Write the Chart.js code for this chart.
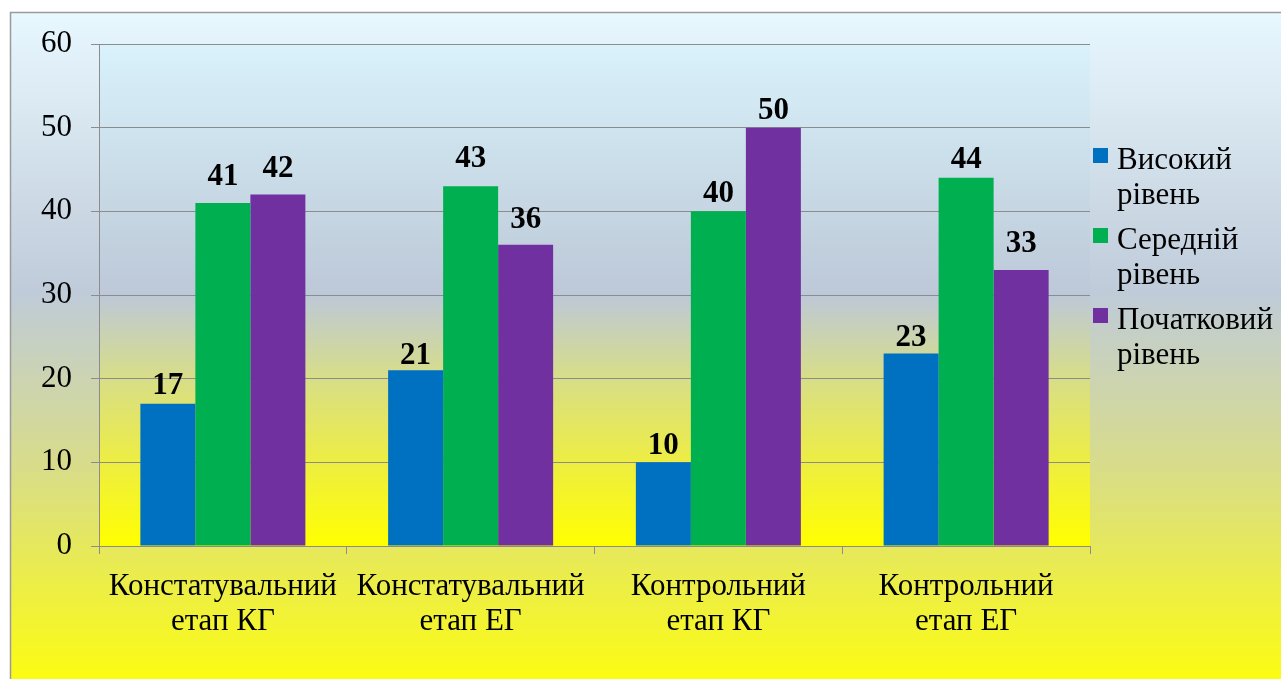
<!DOCTYPE html>
<html>
<head>
<meta charset="utf-8">
<script src="https://cdn.jsdelivr.net/npm/chart.js@4.4.1/dist/chart.umd.min.js"></script>
<style>
  html, body { margin: 0; padding: 0; background: #ffffff; }
  #wrap { width: 1281px; height: 679px; position: relative; }
</style>
</head>
<body>
<div id="wrap"><canvas id="c" width="1281" height="679"></canvas></div>
<script>
const categories = [
  ["Констатувальний", "етап КГ"],
  ["Констатувальний", "етап ЕГ"],
  ["Контрольний", "етап КГ"],
  ["Контрольний", "етап ЕГ"]
];
const seriesNames = [["Високий", "рівень"], ["Середній", "рівень"], ["Початковий", "рівень"]];
const highLevel = [17, 21, 10, 23];
const midLevel = [41, 43, 40, 44];
const lowLevel = [42, 36, 50, 33];
const yTicks = [0, 10, 20, 30, 40, 50, 60];
const colors = ["#0070C0", "#00B050", "#7030A0"];

const SERIF = "'Liberation Serif', 'Times New Roman', serif";

const backgroundPlugin = {
  id: 'bg',
  beforeDraw(chart) {
    const ctx = chart.ctx;
    const W = chart.width, H = chart.height;
    ctx.save();
    const g = ctx.createLinearGradient(0, 12, 0, H);
    g.addColorStop(0, '#e8f8ff');
    g.addColorStop(0.42, '#bfcbd9');
    g.addColorStop(0.68, '#d8dc8a');
    g.addColorStop(1, '#fcfc12');
    ctx.fillStyle = g;
    ctx.fillRect(10, 12, W - 10, H - 12);
    ctx.strokeStyle = '#9a9a9a';
    ctx.lineWidth = 1.5;
    ctx.beginPath();
    ctx.moveTo(10.5, H);
    ctx.lineTo(10.5, 12.5);
    ctx.lineTo(W, 12.5);
    ctx.stroke();
    const a = chart.chartArea;
    const pg = ctx.createLinearGradient(0, a.top, 0, a.bottom);
    pg.addColorStop(0, '#d9f2fc');
    pg.addColorStop(0.25, '#cadde8');
    pg.addColorStop(0.5, '#bdc8d8');
    pg.addColorStop(0.67, '#d8de86');
    pg.addColorStop(0.84, '#eeee40');
    pg.addColorStop(1, '#ffff00');
    ctx.fillStyle = pg;
    ctx.fillRect(a.left, a.top, a.right - a.left, a.bottom - a.top);
    ctx.restore();
  }
};

const labelsPlugin = {
  id: 'vals',
  afterDatasetsDraw(chart, args, opts) {
    const ctx = chart.ctx;
    const lifts = opts.lifts || [];
    ctx.save();
    ctx.font = "bold 31px " + SERIF;
    ctx.fillStyle = '#000';
    ctx.textAlign = 'center';
    ctx.textBaseline = 'alphabetic';
    chart.data.datasets.forEach((ds, i) => {
      const meta = chart.getDatasetMeta(i);
      meta.data.forEach((bar, j) => {
        const lift = (lifts[i] && lifts[i][j] != null) ? lifts[i][j] : 8;
        ctx.fillText(String(ds.data[j]), bar.x, bar.y - lift);
      });
    });
    ctx.restore();
  }
};

const legendPlugin = {
  id: 'customLegend',
  afterDraw(chart) {
    const ctx = chart.ctx;
    ctx.save();
    ctx.font = "31px " + SERIF;
    ctx.textAlign = 'left';
    ctx.textBaseline = 'alphabetic';
    chart.data.datasets.forEach((ds, i) => {
      const base = 169 + i * 80;
      ctx.fillStyle = ds.backgroundColor;
      ctx.fillRect(1093, base - 21, 15, 15);
      ctx.fillStyle = '#000';
      seriesNames[i].forEach((line, k) => {
        ctx.fillText(line, 1117, base + k * 35);
      });
    });
    ctx.restore();
  }
};

new Chart(document.getElementById('c'), {
  type: 'bar',
  data: {
    labels: categories,
    datasets: [
      { label: seriesNames[0].join(' '), data: highLevel, backgroundColor: colors[0] },
      { label: seriesNames[1].join(' '), data: midLevel, backgroundColor: colors[1] },
      { label: seriesNames[2].join(' '), data: lowLevel, backgroundColor: colors[2] }
    ]
  },
  options: {
    responsive: false,
    animation: false,
    devicePixelRatio: 1,
    layout: { padding: { left: 0, top: 44, right: 191, bottom: 0 } },
    datasets: { bar: { barPercentage: 1, categoryPercentage: 0.666, borderWidth: 0 } },
    plugins: {
      legend: { display: false },
      tooltip: { enabled: false },
      title: { display: false },
      vals: { lifts: [[10, 6, 8, 8], [18, 19, 9, 10], [18, 17, 9, 18]] }
    },
    scales: {
      x: {
        grid: { display: true, drawOnChartArea: false, drawTicks: true, tickLength: 8, color: '#8c8c8c', offset: true },
        border: { display: true, color: '#8c8c8c', width: 1 },
        ticks: {
          color: '#000',
          font: { family: SERIF, size: 31, lineHeight: 1.13 },
          padding: 15,
          maxRotation: 0,
          minRotation: 0,
          autoSkip: false
        },
        afterFit(scale) { scale.height = 133; }
      },
      y: {
        min: 0,
        max: 60,
        afterBuildTicks(scale) { scale.ticks = yTicks.map(v => ({ value: v })); },
        grid: { display: true, drawOnChartArea: true, drawTicks: true, tickLength: 8, color: '#8c8c8c', lineWidth: 1 },
        border: { display: true, color: '#8c8c8c', width: 1 },
        ticks: {
          color: '#000',
          font: { family: SERIF, size: 31 },
          padding: 19
        },
        afterFit(scale) { scale.width = 99; }
      }
    }
  },
  plugins: [backgroundPlugin, labelsPlugin, legendPlugin]
});
</script>
</body>
</html>
